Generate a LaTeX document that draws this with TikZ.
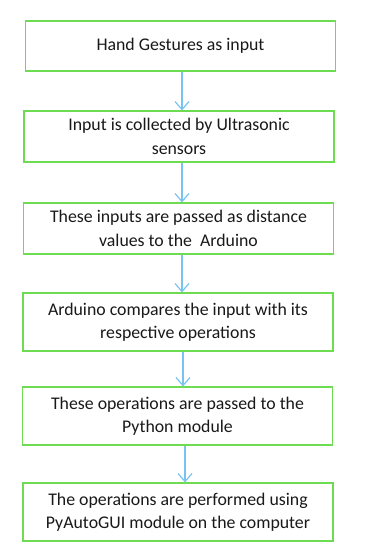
\documentclass[tikz,border=0pt]{standalone}
\usepackage{fontspec}
\setmainfont{Carlito}
\usetikzlibrary{arrows.meta}
\definecolor{boxgreen}{RGB}{110,220,80}
\definecolor{flowblue}{RGB}{120,195,240}
\tikzset{
    stage/.style={draw=boxgreen, line width=1.2pt, fill=white, minimum width=310pt,
        align=center, font=\fontsize{17.8}{23.5}\selectfont, text=black!90, inner sep=0pt},
    flow/.style={draw=flowblue, line width=1.2pt, -{Straight Barb[length=8pt,width=14pt,line width=1.2pt]}}
}
\begin{document}
\begin{tikzpicture}[x=1pt, y=-1pt]
    \useasboundingbox (0,0) rectangle (366,552);
    \node[stage, minimum height=50pt] (s1) at (180.5,46) {Hand Gestures as input};
    \node[stage, minimum height=51pt] (s2) at (179,136.5) {Input is collected by Ultrasonic\\sensors};
    \node[stage, minimum height=51pt] (s3) at (178.5,228.5) {These inputs are passed as distance\\values to the~ Arduino};
    \node[stage, minimum height=58pt] (s4) at (178,322) {Arduino compares the input with its\\respective operations};
    \node[stage, minimum height=58pt] (s5) at (177.5,416) {These operations are passed to the\\Python module};
    \node[stage, minimum height=58pt] (s6) at (178,512) {The operations are performed using\\PyAutoGUI module on the computer};
    \draw[flow] (s1.south -| 182,0) -- (s2.north -| 182,0);
    \draw[flow] (s2.south -| 182,0) -- (s3.north -| 182,0);
    \draw[flow] (s3.south -| 182,0) -- (s4.north -| 182,0);
    \draw[flow] (s4.south -| 183,0) -- (s5.north -| 183,0);
    \draw[flow] (s5.south -| 185,0) -- (s6.north -| 185,0);
\end{tikzpicture}
\end{document}
